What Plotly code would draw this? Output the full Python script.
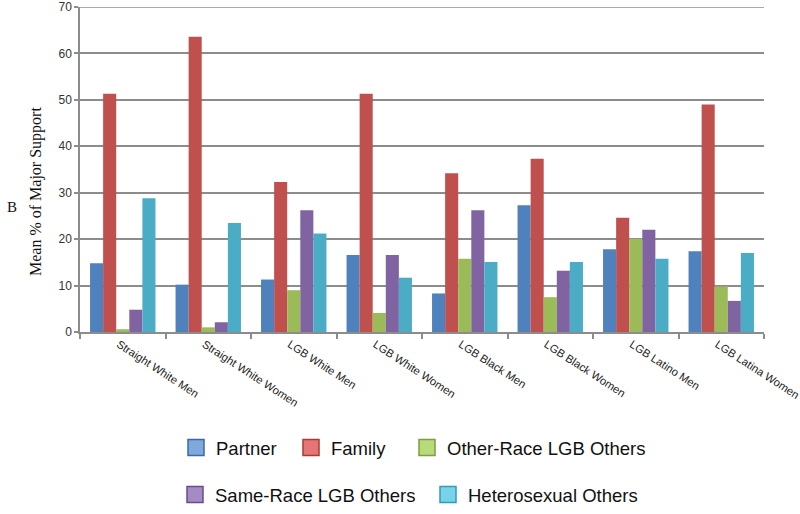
import plotly.graph_objects as go

categories = ["Straight White Men", "Straight White Women", "LGB White Men",
              "LGB White Women", "LGB Black Men", "LGB Black Women",
              "LGB Latino Men", "LGB Latina Women"]

partner = [14.8, 10.2, 11.3, 16.6, 8.3, 27.3, 17.8, 17.4]
family = [51.3, 63.6, 32.3, 51.3, 34.2, 37.3, 24.6, 49.0]
other_race_lgb = [0.6, 1.0, 9.0, 4.1, 15.8, 7.5, 20.1, 9.8]
same_race_lgb = [4.8, 2.1, 26.2, 16.6, 26.2, 13.2, 22.0, 6.7]
heterosexual = [28.8, 23.5, 21.2, 11.7, 15.1, 15.1, 15.8, 17.0]

y_ticks = [0, 10, 20, 30, 40, 50, 60, 70]

series_names = ["Partner", "Family", "Other-Race LGB Others",
                "Same-Race LGB Others", "Heterosexual Others"]
series_values = [partner, family, other_race_lgb, same_race_lgb, heterosexual]
colors = ["#4F81BD", "#C0504D", "#9BBB59", "#8064A2", "#4BACC6"]
legend_fill = ["#7FA8DD", "#E57673", "#B9DA78", "#A58BC6", "#78D2EA"]
legend_edge = ["#3A6AA5", "#A53C39", "#7E9E3E", "#674E8A", "#329AB5"]
legend_ids = ["legend", "legend2", "legend3", "legend4", "legend5"]

fig = go.Figure()
for name, vals, col in zip(series_names, series_values, colors):
    fig.add_trace(go.Bar(x=categories, y=vals, name=name, marker_color=col,
                         marker_line_width=0, showlegend=False))

# legend proxies (no data drawn)
for name, fcol, ecol, lid in zip(series_names, legend_fill, legend_edge, legend_ids):
    fig.add_trace(go.Scatter(x=[None], y=[None], mode="markers", name=name,
                             legend=lid,
                             marker=dict(symbol="square", size=16, color=fcol,
                                         line=dict(color=ecol, width=1.5))))

L, R, T, B = 80, 36, 7, 182
W, H = 800, 514
pw, ph = W - L - R, H - T - B

def px_x(px):
    return (px - L) / pw

def px_y(py):
    return (H - B - py) / ph

leg_common = dict(orientation="h", xanchor="left", yanchor="middle",
                  bgcolor="rgba(0,0,0,0)", borderwidth=0, itemsizing="trace",
                  font=dict(family="Liberation Sans, Arial, sans-serif", size=18.5, color="#111"))
legend_text_x = [216, 331, 447, 215, 468]
legend_row_y = [448, 448, 448, 495, 495]
legend_layout = {}
for lid, tx, ty in zip(legend_ids, legend_text_x, legend_row_y):
    legend_layout[lid] = dict(leg_common, x=px_x(tx - 40), y=px_y(ty))

serif = "Liberation Serif, Times New Roman, serif"
sans = "Liberation Sans, Arial, sans-serif"

fig.update_layout(
    template="none",
    width=W, height=H,
    margin=dict(l=L, r=R, t=T, b=B, autoexpand=False),
    paper_bgcolor="white", plot_bgcolor="white",
    barmode="group", bargap=0.235, bargroupgap=0,
    **legend_layout,
    xaxis=dict(type="category", showgrid=False, showline=True,
               linecolor="#8c8c8c", linewidth=1.5,
               ticks="outside", tickson="boundaries", ticklen=5,
               tickcolor="#8c8c8c", tickwidth=1.5,
               tickangle=33, automargin=False, ticklabelshift=-4,
               tickfont=dict(family=sans, size=11.2, color="#222")),
    yaxis=dict(range=[0, 70], tickmode="array", tickvals=y_ticks,
               showgrid=True, gridcolor="#8c8c8c",
               gridwidth=1.5, showline=True, linecolor="#8c8c8c", linewidth=1.5,
               ticks="outside", ticklen=4, tickcolor="#8c8c8c", tickwidth=1.5,
               zeroline=False, automargin=False, ticklabeloverflow="allow",
               tickfont=dict(family=sans, size=12, color="#333")),
    shapes=[dict(type="line", xref="paper", yref="y", x0=0, x1=1,
                 y0=y_ticks[-1], y1=y_ticks[-1],
                 line=dict(color="#8c8c8c", width=1.5), layer="below")],
    annotations=[
        dict(text="B", x=px_x(12), y=px_y(207), xref="paper", yref="paper",
             showarrow=False, xanchor="center", yanchor="middle",
             font=dict(family=serif, size=15, color="#111")),
        dict(text="Mean % of Major Support", x=px_x(36), y=px_y(192),
             xref="paper", yref="paper", showarrow=False, textangle=-90,
             xanchor="center", yanchor="middle",
             font=dict(family=serif, size=16, color="#111")),
    ],
)

fig.write_html("out.html", config={"displayModeBar": False},
               post_script="document.body.style.margin='0';")
